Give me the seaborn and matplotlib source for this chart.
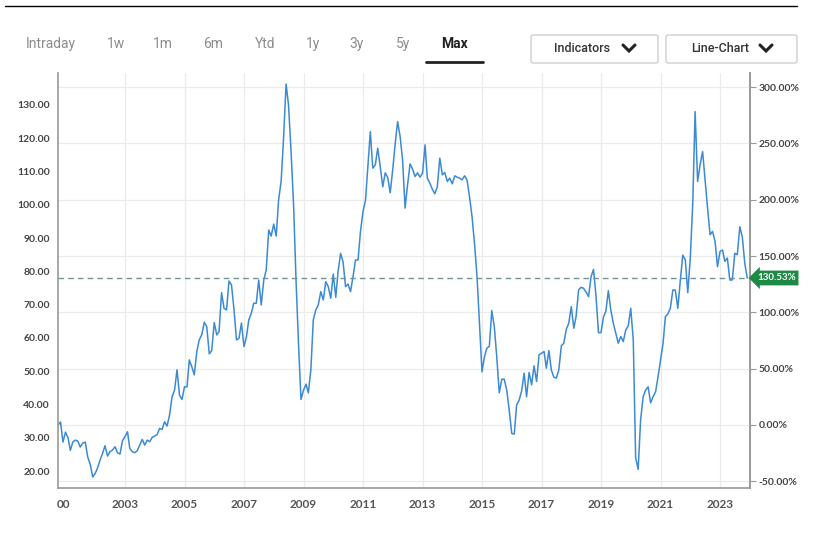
import numpy as np
import pandas as pd
import matplotlib
matplotlib.use("Agg")
import matplotlib.pyplot as plt
import matplotlib.patches as mpatches
from matplotlib.lines import Line2D
import seaborn as sns

# monthly closes, Oct 2000 .. Dec 2023
start = "2000-10-01"
prices = [
    33.84, 34.7, 28.7,                                                      # 2000
    31.7, 30.0, 26.2, 28.7, 29.3, 29.0, 27.2, 28.4, 28.7, 24.2, 22.0, 18.2,  # 2001
    19.3, 21.1, 23.3, 25.3, 27.6, 24.5, 25.8, 26.3, 27.3, 25.5, 25.1, 29.1,  # 2002
    30.3, 31.8, 26.8, 25.8, 25.5, 26.1, 27.8, 29.5, 27.8, 29.3, 28.8, 30.1,  # 2003
    30.5, 31.0, 32.8, 32.5, 34.8, 33.5, 36.8, 42.3, 44.3, 50.4, 42.8, 41.5,  # 2004
    45.3, 45.3, 53.4, 51.3, 48.9, 55.9, 59.4, 61.0, 64.7, 63.4, 55.2, 56.2,  # 2005
    64.6, 60.9, 61.9, 73.6, 68.9, 68.4, 77.1, 75.9, 68.4, 59.4, 59.9, 64.5,  # 2006
    57.4, 60.4, 65.4, 67.4, 70.4, 70.4, 77.4, 69.9, 77.4, 80.4, 92.4, 90.6,  # 2007
    94.2, 90.6, 101.4, 107.0, 120.0, 136.3, 130.0, 116.0, 100.0, 77.4, 58.0, 41.5,  # 2008
    44.3, 46.1, 43.5, 50.4, 65.4, 68.4, 69.9, 73.9, 71.4, 76.9, 75.4, 71.9,  # 2009
    79.2, 72.2, 79.9, 85.4, 82.9, 75.4, 76.2, 73.9, 78.4, 83.4, 83.4, 91.9,  # 2010
    97.9, 101.4, 111.4, 122.0, 111.0, 112.0, 117.0, 111.4, 105.4, 109.6, 108.2, 103.6,  # 2011
    110.5, 118.5, 125.0, 120.5, 113.5, 99.0, 106.0, 112.3, 110.7, 108.5, 109.6, 108.3,  # 2012
    109.5, 118.0, 108.0, 106.5, 104.7, 103.3, 105.4, 114.0, 109.0, 109.7, 107.0, 108.0,  # 2013
    106.3, 108.7, 108.3, 108.0, 107.5, 108.7, 107.5, 102.4, 96.4, 88.4, 78.4, 64.4,  # 2014
    49.8, 54.4, 56.9, 57.5, 68.2, 63.4, 54.4, 43.5, 47.6, 47.6, 44.3, 38.3,  # 2015
    31.3, 31.1, 39.8, 41.3, 44.0, 49.4, 42.3, 49.6, 45.9, 51.6, 46.9, 54.9,  # 2016
    55.4, 55.9, 50.9, 56.2, 50.4, 48.2, 47.9, 50.4, 57.6, 58.4, 62.6, 64.4,  # 2017
    69.4, 62.9, 66.4, 74.4, 75.2, 74.9, 73.8, 72.4, 78.4, 80.6, 72.4, 61.6,  # 2018
    61.6, 66.4, 67.9, 74.2, 68.4, 64.4, 61.4, 58.4, 60.4, 58.9, 62.4, 63.6,  # 2019
    68.9, 59.4, 24.0, 20.5, 35.3, 42.3, 44.3, 45.3, 40.5, 42.3, 43.8, 48.3,  # 2020
    53.4, 58.4, 66.4, 67.2, 68.9, 74.4, 74.4, 68.9, 77.4, 84.9, 83.4, 73.6,  # 2021
    84.0, 101.0, 128.0, 107.0, 112.0, 116.0, 107.5, 99.0, 91.0, 92.0, 89.0, 81.4,  # 2022
    86.0, 86.4, 83.0, 84.0, 77.4, 77.4, 85.4, 85.0, 93.4, 90.4, 82.4, 78.01,  # 2023
]

left_ticks = [20, 30, 40, 50, 60, 70, 80, 90, 100, 110, 120, 130]
pct_ticks = [-50, 0, 50, 100, 150, 200, 250, 300]
year_ticks = [2003, 2005, 2007, 2009, 2011, 2013, 2015, 2017, 2019, 2021, 2023]
tabs = ["Intraday", "1w", "1m", "6m", "Ytd", "1y", "3y", "5y", "Max"]
tab_x = [51, 116, 163, 213, 265, 313, 357, 403, 455]
buttons = ["Indicators", "Line-Chart"]

df = pd.DataFrame({"date": pd.date_range(start, periods=len(prices), freq="MS"),
                   "price": prices})
base = prices[0]
last = prices[-1]

W, H = 820, 533
def fx(x): return x / W
def fy(y): return 1 - y / H

sns.set_style("white")
plt.rcParams["font.family"] = ["Lato", "DejaVu Sans"]

fig = plt.figure(figsize=(8.2, 5.33), dpi=100)
ax = fig.add_axes([fx(58), fy(488), (750 - 58) / W, (488 - 73) / H])

sns.lineplot(data=df, x="date", y="price", ax=ax, color="#3b8ad3", linewidth=1.1)

ax.set_xlim(pd.Timestamp("2000-10-01"), pd.Timestamp("2024-01-04"))
ax.set_ylim(14.9, 139.6)
ax.set_xlabel("")
ax.set_ylabel("")

# x ticks: odd years, first one shows as clipped "00"
xt = [pd.Timestamp("2000-12-08")] + [pd.Timestamp(f"{y}-01-01") for y in year_ticks]
ax.set_xticks(xt)
ax.set_xticklabels(["00"] + [str(y) for y in year_ticks])
ax.tick_params(axis="x", length=4, color="#d5d5d5", labelsize=8.5, labelcolor="#555555", pad=4)
for lb in ax.get_xticklabels():
    lb.set_fontweight("bold")
ax.grid(axis="x", color="#ebebeb", lw=0.9)
ax.get_xgridlines()[0].set_visible(False)
ax.get_xaxis().get_major_ticks()[0].tick1line.set_visible(False)

# left price axis
ax.set_yticks(left_ticks)
ax.set_yticklabels([f"{v:.2f}" for v in left_ticks])
ax.tick_params(axis="y", length=4, color="#999999", labelsize=7.5, labelcolor="#444444", pad=2)
for lb in ax.get_yticklabels():
    lb.set_fontweight("bold")

# horizontal grid follows the percent axis
grid_vals = [base * (1 + p / 100) for p in pct_ticks]
ax.set_yticks(grid_vals, minor=True)
ax.tick_params(axis="y", which="minor", length=0)
ax.grid(axis="y", which="minor", color="#ebebeb", lw=0.9)
ax.grid(axis="y", which="major", visible=False)

for s in ["left", "right", "bottom"]:
    ax.spines[s].set_color("#999999")
    ax.spines[s].set_linewidth(1.2)
ax.spines["top"].set_visible(False)

sec = ax.secondary_yaxis("right", functions=(lambda v: (v / base - 1) * 100,
                                             lambda p: base * (1 + p / 100)))
sec.set_yticks(pct_ticks)
sec.set_yticklabels([f"{p:.2f}%" for p in pct_ticks])
sec.tick_params(length=4, color="#999999", labelsize=7.5, labelcolor="#444444", pad=2)
for lb in sec.get_yticklabels():
    lb.set_fontweight("bold")
sec.spines["right"].set_color("#999999")
sec.spines["right"].set_linewidth(1.2)

# last value line and tag
ax.axhline(last, color="#6e9494", lw=1.0, ls=(0, (4, 3)))
pct_last = (last / base - 1) * 100
ax.annotate(f"{pct_last:.2f}%", xy=(1, last), xycoords=("axes fraction", "data"),
            xytext=(5, 0), textcoords="offset points", ha="left", va="center",
            color="white", fontsize=7, fontweight="bold", annotation_clip=False,
            bbox=dict(boxstyle="larrow,pad=0.3", fc="#1e8a45", ec="none"))

# header
fig.add_artist(Line2D([fx(5), fx(797)], [fy(6), fy(6)], color="black", lw=1.0))
for t, x in zip(tabs, tab_x):
    if t == "Max":
        fig.text(fx(x), fy(44), t, ha="center", va="center", fontsize=10,
                 color="#222222", fontweight="bold", family="Roboto")
    else:
        fig.text(fx(x), fy(44), t, ha="center", va="center", fontsize=10,
                 color="#8c8c8c", family="Roboto")
fig.add_artist(Line2D([fx(426), fx(483)], [fy(62), fy(62)], color="#222222", lw=2))

boxes = [(531, 658, 582, 629), (666, 797, 720, 766)]
for name, (x0, x1, tx, cx) in zip(buttons, boxes):
    fig.add_artist(mpatches.FancyBboxPatch((fx(x0), fy(63)), fx(x1) - fx(x0), fy(35) - fy(63),
                                           boxstyle="round,pad=0,rounding_size=0.003",
                                           fc="white", ec="#cfcfcf", lw=1,
                                           transform=fig.transFigure))
    fig.text(fx(tx), fy(48), name, ha="center", va="center", fontsize=9,
             color="#333333", family="Roboto", fontweight="medium")
    fig.add_artist(Line2D([fx(cx - 6), fx(cx), fx(cx + 6)], [fy(45), fy(51), fy(45)],
                          color="#222222", lw=2.2, solid_capstyle="round",
                          solid_joinstyle="miter"))

fig.savefig("out.png", dpi=100)
